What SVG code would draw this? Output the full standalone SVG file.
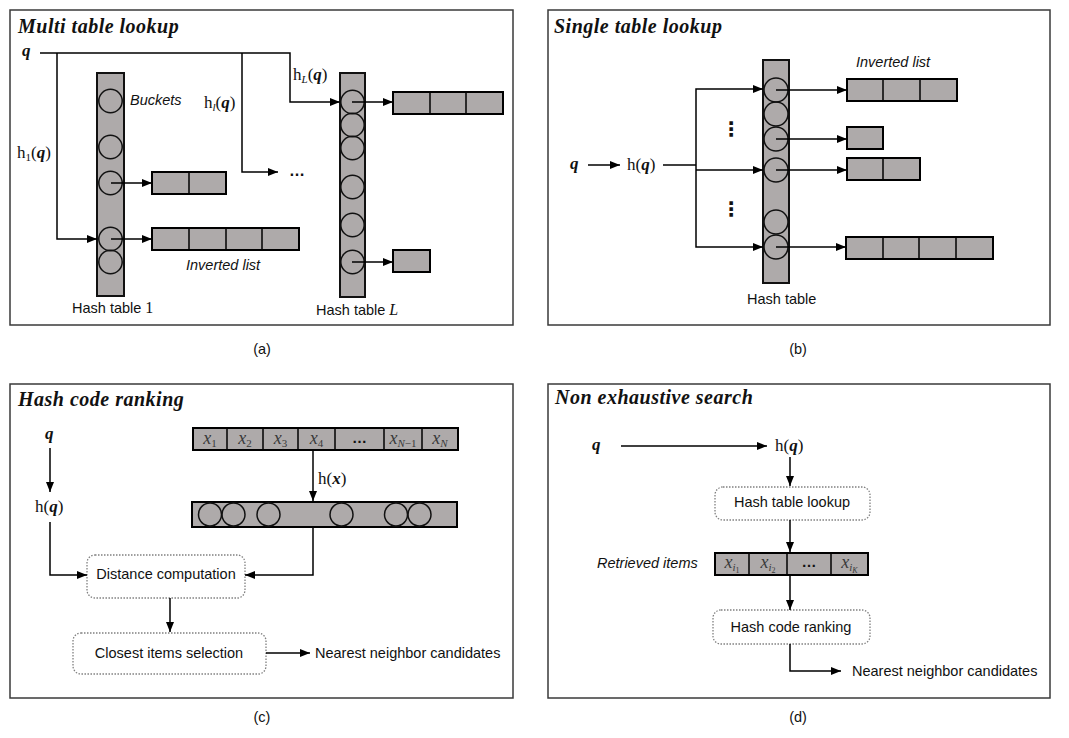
<svg xmlns="http://www.w3.org/2000/svg" width="1069" height="738" viewBox="0 0 1069 738">
<defs>
<marker id="ah" viewBox="0 0 10 10" refX="10" refY="5" markerWidth="10" markerHeight="10" markerUnits="userSpaceOnUse" orient="auto"><path d="M0,1 L10,5 L0,9 z" fill="#000"/></marker>
<style>
.frame{fill:#fff;stroke:#3a3a3a;stroke-width:1.5}
.title{font-family:"Liberation Serif",serif;font-weight:bold;font-style:italic;font-size:20px;letter-spacing:0.5px;fill:#111}
.t{font-family:"Liberation Sans",Arial,sans-serif;font-size:14.5px;fill:#111}
.it{font-style:italic}
.m{font-family:"Liberation Serif",serif;font-size:17px;fill:#111}
.qb{font-weight:bold;font-style:italic}
.mi{font-style:italic}
.cell{fill:#aeaaaa;stroke:#000;stroke-width:2}
.div{stroke:#000;stroke-width:1.5}
.tab{fill:#aeaaaa;stroke:#111;stroke-width:2}
.bk{fill:none;stroke:#111;stroke-width:1.5}
.ln{fill:none;stroke:#000;stroke-width:1.5}
.arr{marker-end:url(#ah)}
.dbox{fill:#fff;stroke:#808080;stroke-width:1.3;stroke-dasharray:1.5 1.5}
.cx{font-family:"Liberation Serif",serif;font-style:italic;font-size:18px;fill:#3a3a3a}
.dots{font-family:"Liberation Sans",Arial,sans-serif;font-weight:bold;fill:#111}
.vd{font-family:"DejaVu Sans",sans-serif;font-weight:bold;font-size:20px;fill:#111}
</style>
</defs>
<rect width="1069" height="738" fill="#fff"/>

<!-- Panel frames -->
<g id="frames">
<rect class="frame" x="10" y="10" width="503" height="315"/>
<rect class="frame" x="548" y="10" width="502" height="315"/>
<rect class="frame" x="10" y="384" width="503" height="314"/>
<rect class="frame" x="548" y="384" width="502" height="314"/>
</g>

<!-- ===== Panel (a) ===== -->
<g id="panel-a">
<text class="title" x="18" y="33">Multi table lookup</text>
<text id="a-q" class="m qb" x="22" y="56">q</text>
<text class="m" x="17" y="158">h<tspan font-size="11" dy="3">1</tspan><tspan dy="-3">(</tspan><tspan class="qb">q</tspan>)</text>
<text class="m" x="204" y="108">h<tspan font-size="11" dy="3" class="mi">l</tspan><tspan dy="-3">(</tspan><tspan class="qb">q</tspan>)</text>
<text class="m" x="293" y="80">h<tspan font-size="11" dy="3" class="mi">L</tspan><tspan dy="-3">(</tspan><tspan class="qb">q</tspan>)</text>
<text class="dots" x="289" y="176" font-size="16">…</text>

<g id="a-table1">
<rect class="tab" x="97" y="73" width="27" height="223"/>
<circle class="bk" cx="110.5" cy="101" r="11.7"/>
<circle class="bk" cx="110.5" cy="147" r="11.7"/>
<circle class="bk" cx="110.5" cy="183" r="11.7"/>
<circle class="bk" cx="110.5" cy="239" r="11.7"/>
<circle class="bk" cx="110.5" cy="262" r="11.7"/>
<text class="t it" x="130" y="105">Buckets</text>
<text class="t" x="72" y="313">Hash table <tspan font-family="Liberation Serif,serif" font-size="16">1</tspan></text>
</g>
<g id="a-list1">
<rect class="cell" x="152" y="172" width="74" height="22"/>
<line class="div" x1="189" y1="172" x2="189" y2="194"/>
</g>
<g id="a-list2">
<rect class="cell" x="152" y="228" width="147" height="22"/>
<line class="div" x1="189" y1="228" x2="189" y2="250"/>
<line class="div" x1="226" y1="228" x2="226" y2="250"/>
<line class="div" x1="262" y1="228" x2="262" y2="250"/>
<text class="t it" x="186" y="270">Inverted list</text>
</g>
<g id="a-tableL">
<rect class="tab" x="340" y="73" width="25" height="224"/>
<circle class="bk" cx="352.5" cy="102" r="11.7"/>
<circle class="bk" cx="352.5" cy="125" r="11.7"/>
<circle class="bk" cx="352.5" cy="148" r="11.7"/>
<circle class="bk" cx="352.5" cy="187" r="11.7"/>
<circle class="bk" cx="352.5" cy="225" r="11.7"/>
<circle class="bk" cx="352.5" cy="262" r="11.7"/>
<text class="t" x="316" y="315">Hash table <tspan font-family="Liberation Serif,serif" font-style="italic" font-size="16">L</tspan></text>
</g>
<g id="a-listL1">
<rect class="cell" x="393" y="92" width="110" height="22"/>
<line class="div" x1="430" y1="92" x2="430" y2="114"/>
<line class="div" x1="466" y1="92" x2="466" y2="114"/>
</g>
<g id="a-listL2">
<rect class="cell" x="393" y="250" width="37" height="22"/>
</g>
<text class="t" x="262" y="354" text-anchor="middle">(a)</text>
</g>

<!-- ===== Panel (b) ===== -->
<g id="panel-b">
<text class="title" x="554" y="33">Single table lookup</text>
<text class="m qb" x="570" y="169">q</text>
<text class="m" x="627" y="170">h(<tspan class="qb">q</tspan>)</text>
<text class="vd" x="721" y="136">⋮</text>
<text class="vd" x="721" y="216">⋮</text>
<g id="b-table">
<rect class="tab" x="763" y="60" width="26" height="223"/>
<circle class="bk" cx="776" cy="90" r="12"/>
<circle class="bk" cx="776" cy="114" r="12"/>
<circle class="bk" cx="776" cy="139" r="12"/>
<circle class="bk" cx="776" cy="170" r="12"/>
<circle class="bk" cx="776" cy="222" r="12"/>
<circle class="bk" cx="776" cy="247" r="12"/>
<text class="t" x="747" y="304">Hash table</text>
</g>
<g id="b-list1">
<rect class="cell" x="847" y="79" width="110" height="22"/>
<line class="div" x1="883" y1="79" x2="883" y2="101"/>
<line class="div" x1="920" y1="79" x2="920" y2="101"/>
<text class="t it" x="856" y="67">Inverted list</text>
</g>
<g id="b-list2"><rect class="cell" x="847" y="127" width="36" height="22"/></g>
<g id="b-list3">
<rect class="cell" x="847" y="158" width="73" height="22"/>
<line class="div" x1="883" y1="158" x2="883" y2="180"/>
</g>
<g id="b-list4">
<rect class="cell" x="846" y="237" width="147" height="22"/>
<line class="div" x1="883" y1="237" x2="883" y2="259"/>
<line class="div" x1="919" y1="237" x2="919" y2="259"/>
<line class="div" x1="956" y1="237" x2="956" y2="259"/>
</g>
<text class="t" x="798" y="354" text-anchor="middle">(b)</text>
</g>

<!-- ===== Panel (c) ===== -->
<g id="panel-c">
<text class="title" x="18" y="406">Hash code ranking</text>
<text class="m qb" x="45" y="439">q</text>
<text class="m" x="35" y="512">h(<tspan class="qb">q</tspan>)</text>
<text class="m" x="318" y="484">h(<tspan class="qb">x</tspan>)</text>
<g id="c-items">
<rect class="cell" x="193" y="428" width="265" height="22"/>
<line class="div" x1="227" y1="428" x2="227" y2="450"/>
<line class="div" x1="263" y1="428" x2="263" y2="450"/>
<line class="div" x1="298" y1="428" x2="298" y2="450"/>
<line class="div" x1="335" y1="428" x2="335" y2="450"/>
<line class="div" x1="384" y1="428" x2="384" y2="450"/>
<line class="div" x1="422" y1="428" x2="422" y2="450"/>
<text class="cx" x="210" y="444" text-anchor="middle">x<tspan font-size="11" dy="3" font-style="normal">1</tspan></text>
<text class="cx" x="245" y="444" text-anchor="middle">x<tspan font-size="11" dy="3" font-style="normal">2</tspan></text>
<text class="cx" x="280.5" y="444" text-anchor="middle">x<tspan font-size="11" dy="3" font-style="normal">3</tspan></text>
<text class="cx" x="316.5" y="444" text-anchor="middle">x<tspan font-size="11" dy="3" font-style="normal">4</tspan></text>
<text class="dots" x="359.5" y="443" font-size="15" text-anchor="middle" fill="#3a3a3a">…</text>
<text class="cx" x="403" y="444" text-anchor="middle">x<tspan font-size="11" dy="3">N</tspan><tspan font-size="11" font-style="normal">−1</tspan></text>
<text class="cx" x="440" y="444" text-anchor="middle">x<tspan font-size="11" dy="3">N</tspan></text>
</g>
<g id="c-codes">
<rect class="cell" x="192" y="502" width="265" height="25"/>
<circle class="bk" cx="210" cy="514.5" r="11.5"/>
<circle class="bk" cx="233.5" cy="514.5" r="11.5"/>
<circle class="bk" cx="268.5" cy="514.5" r="11.5"/>
<circle class="bk" cx="341.5" cy="514.5" r="11.5"/>
<circle class="bk" cx="396" cy="514.5" r="11.5"/>
<circle class="bk" cx="419.5" cy="514.5" r="11.5"/>
</g>
<g id="c-distance">
<rect class="dbox" x="87" y="555" width="158" height="43" rx="8"/>
<text class="t" x="166" y="579" text-anchor="middle">Distance computation</text>
</g>
<g id="c-closest">
<rect class="dbox" x="73" y="633" width="193" height="41" rx="8"/>
<text class="t" x="169" y="658" text-anchor="middle">Closest items selection</text>
</g>
<text id="c-nn" class="t" x="315" y="658">Nearest neighbor candidates</text>
<text class="t" x="262" y="722" text-anchor="middle">(c)</text>
</g>

<!-- ===== Panel (d) ===== -->
<g id="panel-d">
<text class="title" x="555" y="404">Non exhaustive search</text>
<text class="m qb" x="592" y="450">q</text>
<text class="m" x="775" y="451">h(<tspan class="qb">q</tspan>)</text>
<g id="d-lookup">
<rect class="dbox" x="715" y="487" width="155" height="33" rx="8"/>
<text class="t" x="792" y="507" text-anchor="middle">Hash table lookup</text>
</g>
<g id="d-items">
<text class="t it" x="597" y="568">Retrieved items</text>
<rect class="cell" x="715" y="553" width="153" height="22"/>
<line class="div" x1="749" y1="553" x2="749" y2="575"/>
<line class="div" x1="787" y1="553" x2="787" y2="575"/>
<line class="div" x1="831" y1="553" x2="831" y2="575"/>
<text class="cx" x="732" y="568" text-anchor="middle">x<tspan font-size="11" dy="3">i</tspan><tspan font-size="8" dy="2" font-style="normal">1</tspan></text>
<text class="cx" x="768" y="568" text-anchor="middle">x<tspan font-size="11" dy="3">i</tspan><tspan font-size="8" dy="2" font-style="normal">2</tspan></text>
<text class="dots" x="809" y="567" font-size="15" text-anchor="middle" fill="#3a3a3a">…</text>
<text class="cx" x="849.5" y="568" text-anchor="middle">x<tspan font-size="11" dy="3">i</tspan><tspan font-size="8" dy="2">K</tspan></text>
</g>
<g id="d-ranking">
<rect class="dbox" x="713" y="610" width="157" height="34" rx="8"/>
<text class="t" x="791" y="632" text-anchor="middle">Hash code ranking</text>
</g>
<text id="d-nn" class="t" x="852" y="676">Nearest neighbor candidates</text>
<text class="t" x="798" y="722" text-anchor="middle">(d)</text>
</g>

<!-- ===== Connectors ===== -->
<g id="connectors">
<!-- (a) -->
<path class="ln arr" d="M40,53 L290,53 L290,102 L340,102"/>
<path class="ln arr" d="M57,53 L57,239 L97,239"/>
<path class="ln arr" d="M242,53 L242,172 L278,172"/>
<path class="ln arr" d="M111,183 L152,183"/>
<path class="ln arr" d="M111,239 L152,239"/>
<path class="ln arr" d="M352,102 L393,102"/>
<path class="ln arr" d="M352,262 L393,262"/>
<!-- (b) -->
<path class="ln arr" d="M588,165 L620,165"/>
<path class="ln" d="M663,165 L696,165"/>
<path class="ln arr" d="M696,165 L696,89 L763,89"/>
<path class="ln arr" d="M696,165 L696,247 L763,247"/>
<path class="ln arr" d="M696,170 L763,170"/>
<path class="ln arr" d="M776,90 L847,90"/>
<path class="ln arr" d="M776,139 L847,139"/>
<path class="ln arr" d="M776,170 L847,170"/>
<path class="ln arr" d="M776,247 L846,247"/>
<!-- (c) -->
<path class="ln arr" d="M50,448 L50,492"/>
<path class="ln arr" d="M50,522 L50,575 L87,575"/>
<path class="ln arr" d="M313,450 L313,501"/>
<path class="ln arr" d="M313,527 L313,575 L245,575"/>
<path class="ln arr" d="M170,598 L170,632"/>
<path class="ln arr" d="M266,653 L310,653"/>
<!-- (d) -->
<path class="ln arr" d="M621,446 L767,446"/>
<path class="ln arr" d="M790,457 L790,486"/>
<path class="ln arr" d="M790,520 L790,552"/>
<path class="ln arr" d="M790,575 L790,610"/>
<path class="ln arr" d="M790,644 L790,671 L841,671"/>
</g>
</svg>
